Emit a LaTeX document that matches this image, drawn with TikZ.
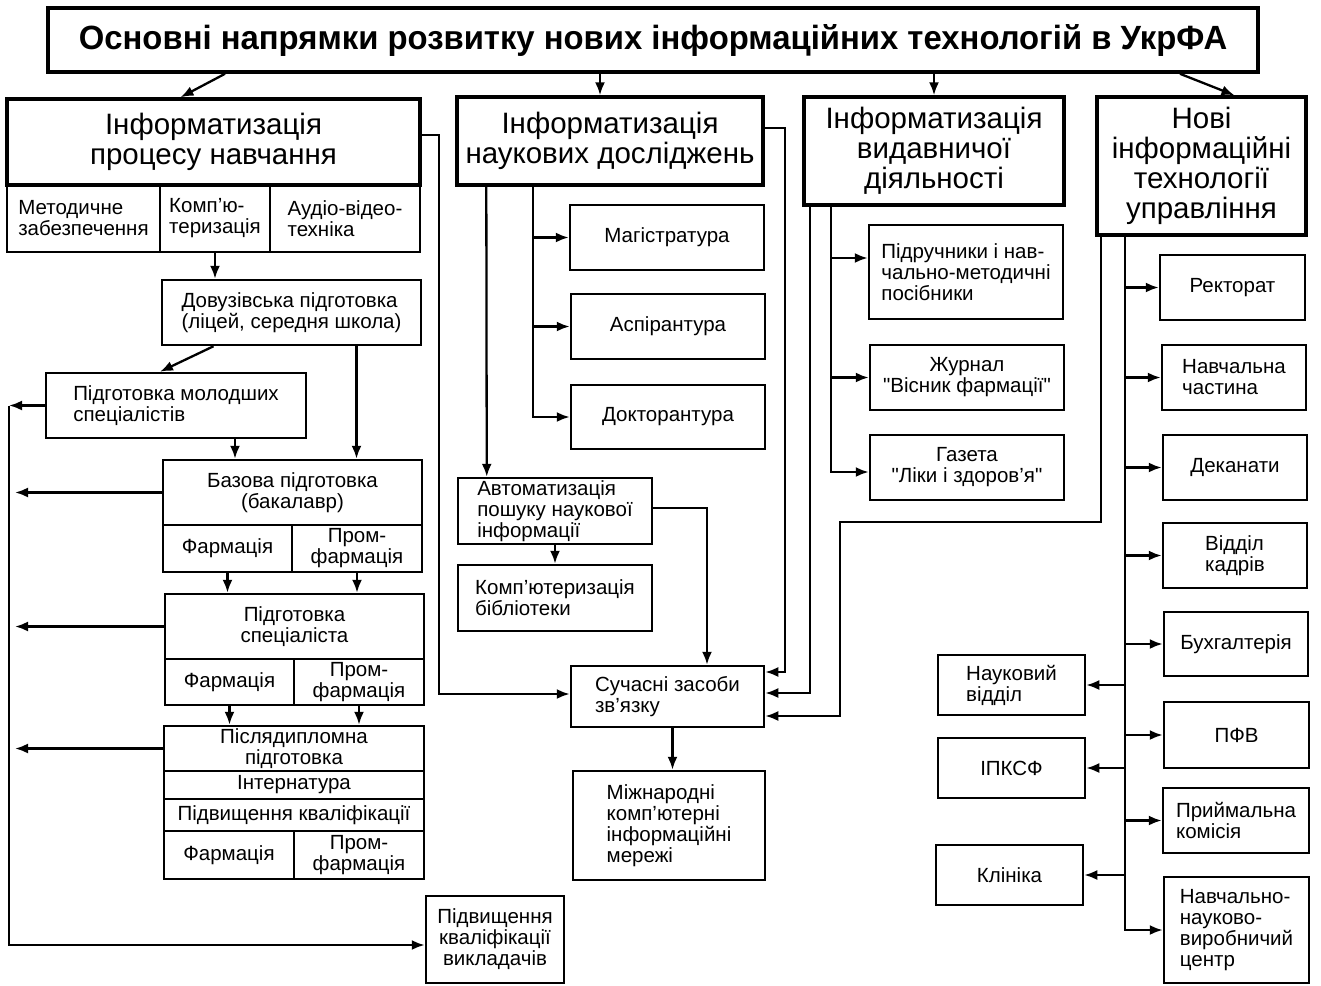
\documentclass[tikz,border=0pt]{standalone}
\usepackage{fontspec}
\setmainfont{Liberation Sans}[Ligatures=TeXOff]
\usetikzlibrary{arrows.meta}
\begin{document}
\begin{tikzpicture}[x=1pt,y=-1pt,>={Latex[length=13pt,width=10pt]},big_node/.style={draw,line width=3.4pt,inner sep=0pt,align=center,font=\fontsize{29.5}{30}\selectfont},main_node/.style={draw,line width=2.5pt,inner sep=0pt,align=center,font=\fontsize{20.5}{21}\selectfont},left_node/.style={main_node,align=left},link/.style={line width=2.3pt}]

		\useasboundingbox (0,0) rectangle (1321,985);

		\node[draw,line width=3.6pt,minimum width=1210,minimum height=64] (0) at (653,40) {\resizebox{1148pt}{25pt}{\bfseries Основні напрямки розвитку нових інформаційних технологій в УкрФА}};

		\node[big_node,minimum width=413,minimum height=86] (1) at (213.5,142) {Інформатизація\\процесу навчання};
		\node[left_node,minimum width=153,minimum height=67] (2) at (83.5,218.5) {Методичне\\забезпечення};
		\node[left_node,minimum width=110,minimum height=67] (3) at (215,218.5) {Комп’ю-\\теризація};
		\node[left_node,minimum width=150,minimum height=67] (4) at (345,218.5) {Аудіо-відео-\\техніка};
		\node[left_node,minimum width=259,minimum height=65] (5) at (291.5,312.5) {Довузівська підготовка\\(ліцей, середня школа)};
		\node[left_node,minimum width=260,minimum height=65] (6) at (176,405.5) {Підготовка молодших\\спеціалістів};
		\node[main_node,minimum width=259,minimum height=65] (7) at (292.5,492.5) {Базова підготовка\\(бакалавр)};
		\node[main_node,minimum width=129,minimum height=47] (8) at (227.5,548.5) {Фармація};
		\node[main_node,minimum width=130,minimum height=47] (9) at (357,548.5) {Пром-\\фармація};
		\node[main_node,minimum width=259,minimum height=65] (10) at (294.5,626.5) {Підготовка\\спеціаліста};
		\node[main_node,minimum width=129,minimum height=46] (11) at (229.5,682) {Фармація};
		\node[main_node,minimum width=130,minimum height=46] (12) at (359,682) {Пром-\\фармація};
		\node[main_node,minimum width=260,minimum height=45] (13) at (294,748.5) {Післядипломна\\підготовка};
		\node[main_node,minimum width=260,minimum height=28] (14) at (294,785) {Інтернатура};
		\node[main_node,minimum width=260,minimum height=32] (15) at (294,815) {Підвищення кваліфікації};
		\node[main_node,minimum width=130,minimum height=48] (16) at (229,855) {Фармація};
		\node[main_node,minimum width=130,minimum height=48] (17) at (359,855) {Пром-\\фармація};
		\node[main_node,minimum width=138,minimum height=87] (18) at (495,939.5) {Підвищення\\кваліфікації\\викладачів};

		\node[big_node,minimum width=306,minimum height=88] (19) at (610,141) {Інформатизація\\наукових досліджень};
		\node[main_node,minimum width=194,minimum height=65] (20) at (667,237.5) {Магістратура};
		\node[main_node,minimum width=194,minimum height=65] (21) at (668,326.5) {Аспірантура};
		\node[main_node,minimum width=194,minimum height=64] (22) at (668,417) {Докторантура};
		\node[left_node,minimum width=194,minimum height=66] (23) at (555,511) {Автоматизація\\пошуку наукової\\інформації};
		\node[left_node,minimum width=194,minimum height=66] (24) at (555,598) {Комп’ютеризація\\бібліотеки};
		\node[left_node,minimum width=193,minimum height=61] (25) at (667.5,696.5) {Сучасні засоби\\зв’язку};
		\node[left_node,minimum width=192,minimum height=109] (26) at (669,825.5) {Міжнародні\\комп’ютерні\\інформаційні\\мережі};

		\node[big_node,minimum width=260,minimum height=108] (27) at (934,151) {Інформатизація\\видавничої\\діяльності};
		\node[left_node,minimum width=194,minimum height=94] (28) at (966,272) {Підручники і нав-\\чально-методичні\\посібники};
		\node[main_node,minimum width=194,minimum height=65] (29) at (967,377.5) {Журнал\\"Вісник фармації"};
		\node[main_node,minimum width=194,minimum height=65] (30) at (967,467.5) {Газета\\"Ліки і здоров’я"};

		\node[big_node,minimum width=209,minimum height=138] (31) at (1201.5,166) {Нові\\інформаційні\\технології\\управління};
		\node[main_node,minimum width=145,minimum height=65] (32) at (1232.5,287.5) {Ректорат};
		\node[left_node,minimum width=144,minimum height=65] (33) at (1234,377.5) {Навчальна\\частина};
		\node[main_node,minimum width=144,minimum height=65] (34) at (1235,467.5) {Деканати};
		\node[left_node,minimum width=144,minimum height=65] (35) at (1235,555.5) {Відділ\\кадрів};
		\node[main_node,minimum width=144,minimum height=64] (36) at (1236,644) {Бухгалтерія};
		\node[main_node,minimum width=145,minimum height=66] (37) at (1236.5,735) {ПФВ};
		\node[left_node,minimum width=146,minimum height=65] (38) at (1236,820.5) {Приймальна\\комісія};
		\node[left_node,minimum width=145,minimum height=106] (39) at (1236.5,930) {Навчально-\\науково-\\виробничий\\центр};
		\node[left_node,minimum width=147,minimum height=60] (40) at (1011.5,685) {Науковий\\відділ};
		\node[main_node,minimum width=147,minimum height=60] (41) at (1011.5,768) {ІПКСФ};
		\node[main_node,minimum width=147,minimum height=60] (42) at (1009.5,875) {Клініка};

		\coordinate (b1) at (9,405.5);
		\coordinate (b2) at (15,0);
		\coordinate (m1) at (840,522);

		\draw[link,->] ([xshift=-428pt]0.south) -- ([xshift=-33pt]1.north);
		\draw[link,->] ([xshift=-10pt]19.north |- 0.south) -- ([xshift=-10pt]19.north);
		\draw[link,->] (27.north |- 0.south) -- (27.north);
		\draw[link,->] ([xshift=527pt]0.south) -- ([xshift=33pt]31.north);

		\draw[link,->] (3.south) -- (3.south |- 5.north);
		\draw[link,->] ([xshift=-78pt]5.south) -- ([xshift=-16pt]6.north);
		\draw[link,->] ([xshift=65pt]5.south) -- ([xshift=65pt]5.south |- 7.north);
		\draw[link,->] ([xshift=59pt]6.south) -- ([xshift=59pt]6.south |- 7.north);
		\draw[link,->] (8.south) -- (8.south |- 10.north);
		\draw[link,->] (9.south) -- (9.south |- 10.north);
		\draw[link,->] (11.south) -- (11.south |- 13.north);
		\draw[link,->] (12.south) -- (12.south |- 13.north);
		\draw[link,->] (6.west) -- (b1);
		\draw[link,->] (b1) |- ([yshift=-5.5pt]18.west);
		\draw[link,->] (7.west) -- (b2 |- 7.west);
		\draw[link,->] (10.west) -- (b2 |- 10.west);
		\draw[link,->] (13.west) -- (b2 |- 13.west);
		\draw[link,->] ([yshift=7pt]1.east) -- ++(17,0) |- ([yshift=2.5pt]25.west);

		\draw[link,->] ([xshift=78pt]19.south west) |- (20.west);
		\draw[link,->] ([xshift=78pt]19.south west) |- (21.west);
		\draw[link,->] ([xshift=78pt]19.south west) |- (22.west);
		\draw[link,->] ([xshift=31pt]19.south west) -- ([xshift=30pt]23.north west);
		\draw[link,->] (23.south) -- (24.north);
		\draw[link,->] ([yshift=3pt]23.east) -| ([xshift=39.5pt]25.north);
		\draw[link,->] ([yshift=13pt]19.east) -- ++(20,0) |- ([yshift=24.5pt]25.east);
		\draw[link,->] ([xshift=5pt]25.south) -- ([xshift=5pt]25.south |- 26.north);

		\draw[link,->] ([xshift=8pt]27.south west) |- ([yshift=3.5pt]25.east);
		\draw[link,->] ([xshift=29pt]27.south west) |- ([yshift=14pt]28.west);
		\draw[link,->] ([xshift=29pt]27.south west) |- (29.west);
		\draw[link,->] ([xshift=29pt]27.south west) |- ([yshift=-4.5pt]30.west);

		\draw[link,->] ([xshift=6pt]31.south west) |- (m1) |- ([yshift=-19.5pt]25.east);
		\draw[link,->] ([xshift=30pt]31.south west) |- (32.west);
		\draw[link,->] ([xshift=30pt]31.south west) |- (33.west);
		\draw[link,->] ([xshift=30pt]31.south west) |- (34.west);
		\draw[link,->] ([xshift=30pt]31.south west) |- (35.west);
		\draw[link,->] ([xshift=30pt]31.south west) |- (36.west);
		\draw[link,->] ([xshift=30pt]31.south west) |- (37.west);
		\draw[link,->] ([xshift=30pt]31.south west) |- (38.west);
		\draw[link,->] ([xshift=30pt]31.south west) |- (39.west);
		\draw[link,->] ([xshift=30pt]31.south west) |- (40.east);
		\draw[link,->] ([xshift=30pt]31.south west) |- (41.east);
		\draw[link,->] ([xshift=30pt]31.south west) |- (42.east);
		\end{tikzpicture}
\end{document}
